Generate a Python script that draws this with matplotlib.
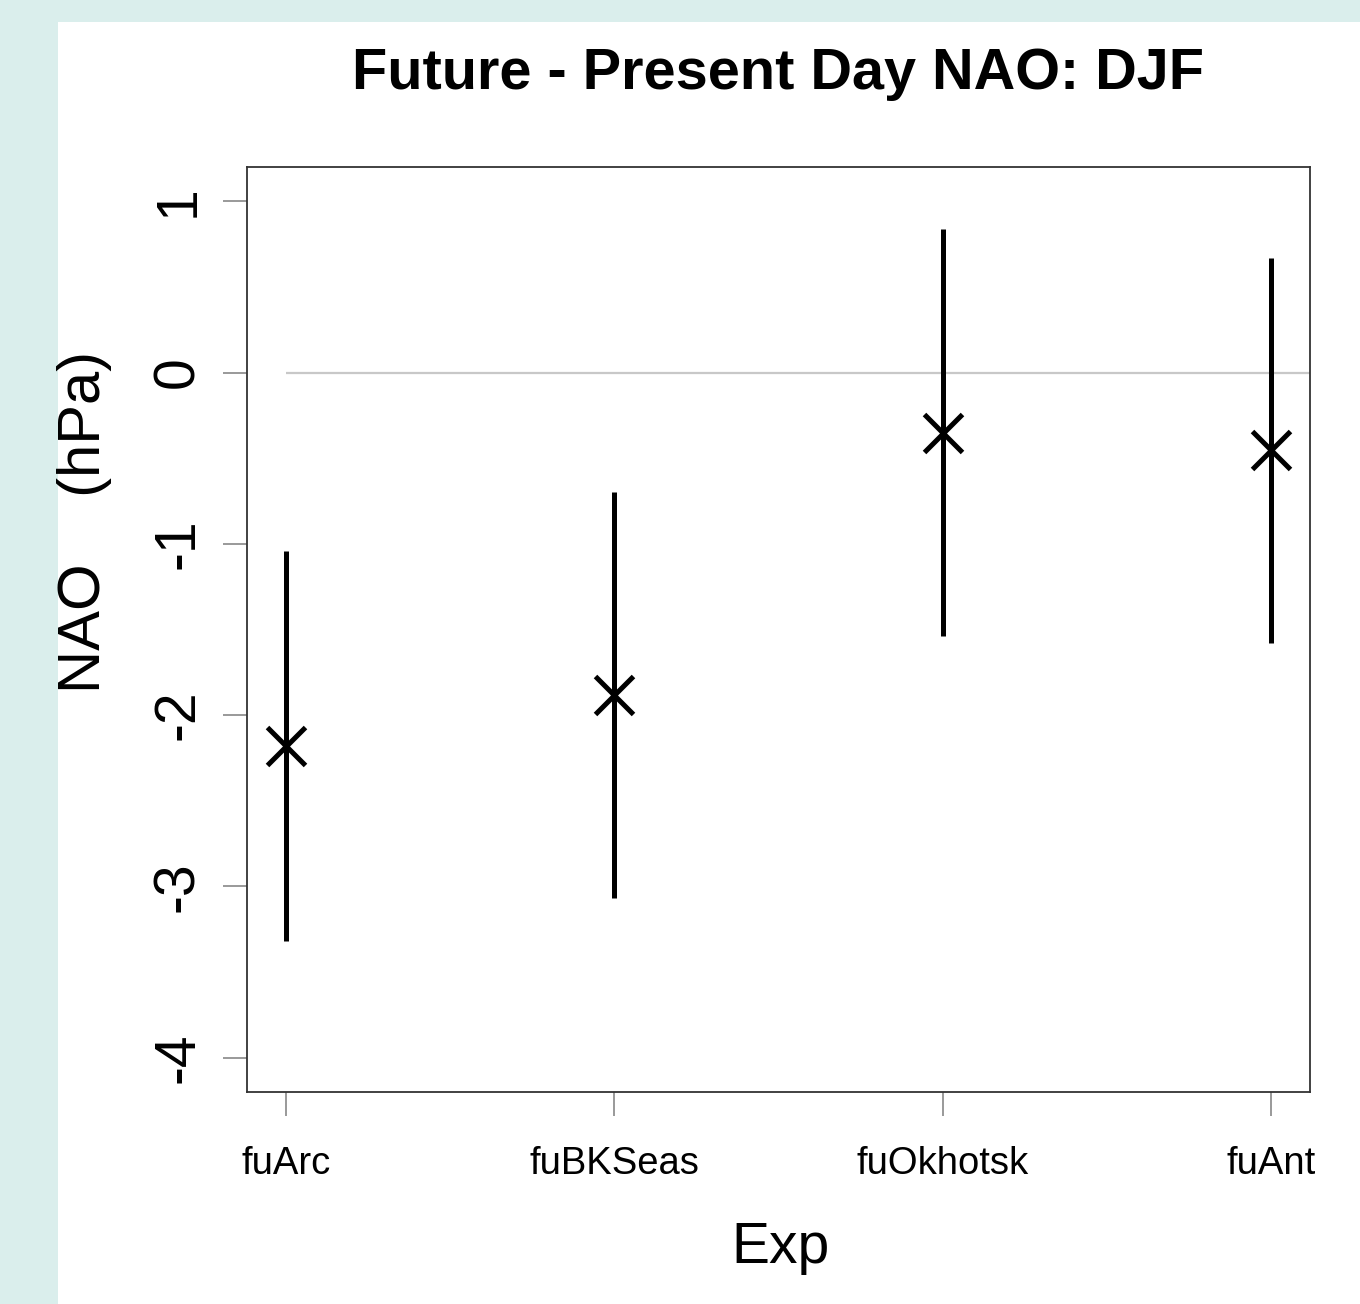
import matplotlib
matplotlib.use("Agg")
import matplotlib.pyplot as plt
from matplotlib.patches import Rectangle

# experiments and NAO change (hPa): mean with lower / upper bounds
exps = ["fuArc", "fuBKSeas", "fuOkhotsk", "fuAnt"]
nao_mean = [-2.18, -1.88, -0.35, -0.45]
nao_low = [-3.32, -3.07, -1.54, -1.58]
nao_high = [-1.04, -0.70, 0.84, 0.67]

plt.rcParams["font.family"] = ["Liberation Sans", "DejaVu Sans"]

W, H = 1360, 1304
fig = plt.figure(figsize=(W / 100, H / 100), dpi=100)
fig.patch.set_facecolor("#daeeec")
fig.add_artist(Rectangle((58 / W, 0), 1, 1 - 22 / H, transform=fig.transFigure,
                         facecolor="white", edgecolor="none", zorder=0))

ax = fig.add_axes([247 / W, 1 - 1092 / H, (1310 - 247) / W, (1092 - 167) / H])
ax.set_facecolor("white")

x = list(range(1, len(exps) + 1))
ax.set_xlim(0.88, 4.12)
ax.set_ylim(-4.2, 1.2)

ax.hlines(0, x[0], 5, color="#c8c8c8", lw=1.6, zorder=1)
ax.vlines(x, nao_low, nao_high, color="black", lw=3.6, zorder=2)
ax.plot(x, nao_mean, ls="none", marker="x", ms=27, mew=3.6, color="black", zorder=3)

ax.set_xticks(x)
ax.set_xticklabels(exps, fontsize=27.5)
ax.set_yticks([1, 0, -1, -2, -3, -4])
ax.set_yticklabels(["1", "0", "-1", "-2", "-3", "-4"], fontsize=41, rotation=90, va="center")
ax.tick_params(axis="both", length=17, width=1.2, color="#888888", direction="out")
ax.tick_params(axis="x", pad=22)
ax.tick_params(axis="y", pad=13)
for s in ax.spines.values():
    s.set_linewidth(1.3)
    s.set_color("#333333")

fig.text(778 / W, 1 - 74 / H, "Future - Present Day NAO: DJF", ha="center", va="center",
         fontsize=41.5, fontweight="bold")
fig.text(85 / W, 1 - 522 / H, "NAO    (hPa)", ha="center", va="center", rotation=90,
         fontsize=43)
fig.text(780 / W, 1 - 1248 / H, "Exp", ha="center", va="center", fontsize=41)

fig.savefig("out.png", dpi=100, facecolor=fig.get_facecolor())
